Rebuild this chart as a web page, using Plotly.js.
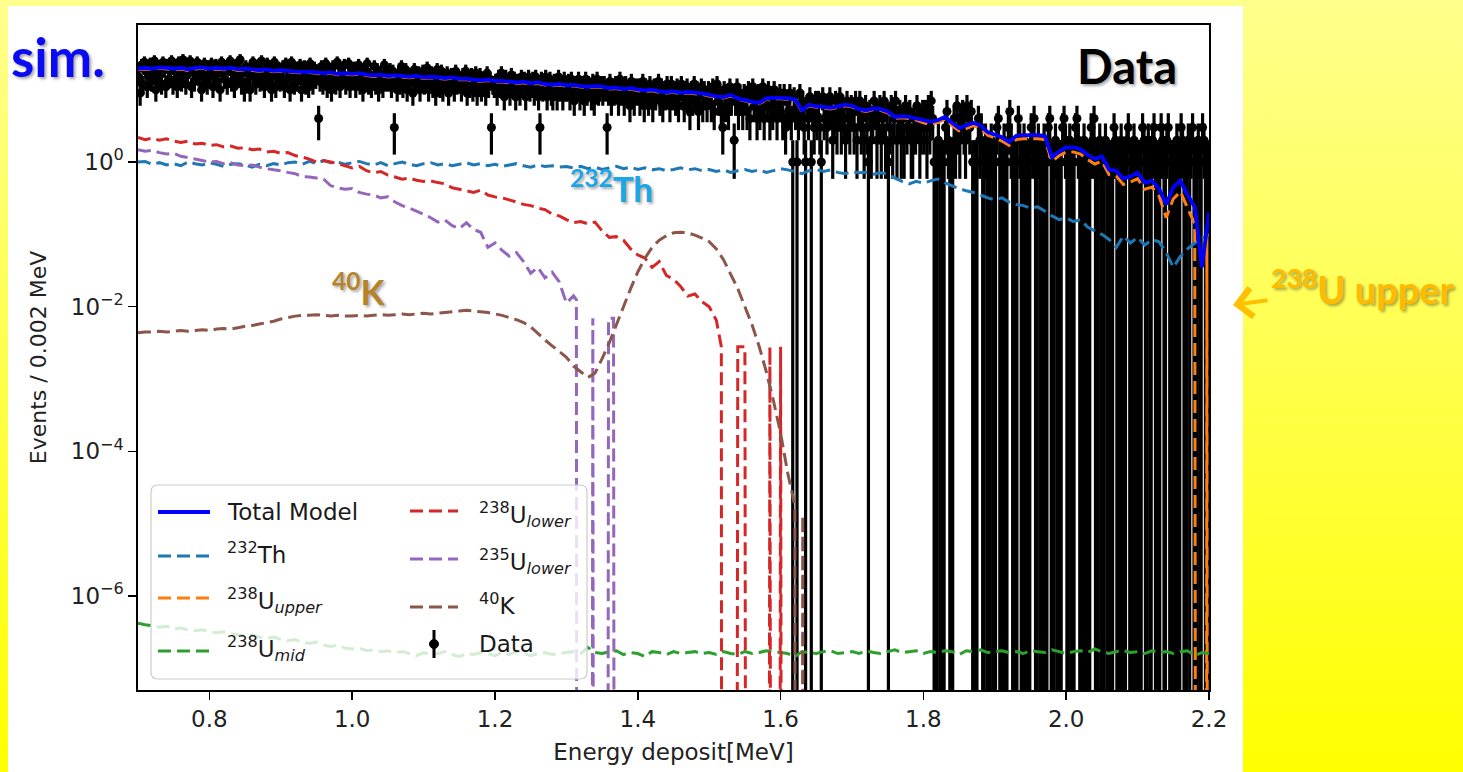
<!DOCTYPE html>
<html>
<head>
<meta charset="utf-8">
<script src="https://cdn.plot.ly/plotly-3.0.1.min.js"></script>
<style>
html,body{margin:0;padding:0;width:1463px;height:772px;overflow:hidden;
  background:linear-gradient(to bottom,#ffff8c 0%,#ffff50 45%,#ffff00 100%);}
#panel{position:absolute;left:8px;top:6px;width:1235px;height:766px;background:#ffffff;}
#chart{position:absolute;left:0;top:0;width:1463px;height:772px;}
</style>
</head>
<body>
<div id="panel"></div>
<div id="chart"></div>
<script>
// ---------------- data ----------------
// model histograms, sampled every 0.01 MeV starting at 0.70 MeV
const gridStart = 0.70, gridStep = 0.01;

const totalModel = [
19.5,20.0,19.5,20.4,20.0,19.5,20.0,19.1,20.0,20.4,
19.5,20.0,19.5,20.0,19.1,19.5,19.1,18.6,19.1,18.2,
18.6,18.2,17.8,17.6,17.8,17.4,17.0,17.4,16.6,17.0,
16.6,17.0,16.2,15.8,16.2,15.5,15.8,15.5,15.1,15.5,
14.8,15.1,14.8,14.5,14.8,14.1,14.1,13.8,13.5,13.8,
13.2,13.2,12.9,12.6,12.9,12.3,12.6,12.0,11.7,12.0,
11.5,11.7,11.2,11.0,11.2,11.0,10.5,10.7,10.2,10.5,
10.0,9.8,10.0,9.5,9.3,9.5,9.1,9.3,9.1,8.9,
8.5,8.1,7.9,8.5,7.6,7.2,6.8,6.6,7.6,7.7,
7.7,7.6,7.4,5.2,6.2,5.9,5.8,5.6,5.9,6.2,
6.0,5.4,5.2,5.5,5.4,5.0,4.2,4.3,4.2,4.0,
3.8,3.6,3.8,4.2,3.5,2.95,3.2,3.5,3.2,2.6,
2.4,2.2,1.9,2.3,2.35,2.35,2.35,2.3,1.17,1.4,
1.6,1.6,1.5,1.26,1.1,1.2,0.79,0.76,0.59,0.63,
0.71,0.52,0.55,0.43,0.26,0.45,0.55,0.35,0.24,0.035,
0.20];

const th232 = [
1.00,1.02,0.93,0.98,0.91,0.95,0.89,1.00,0.95,0.91,
0.98,0.93,0.87,0.93,0.95,0.91,0.85,0.93,0.89,0.95,
0.91,0.98,1.00,0.93,1.02,0.95,1.05,0.98,1.00,0.93,
0.98,1.02,0.95,0.91,0.98,0.89,0.95,1.00,0.93,0.89,
0.95,0.98,0.91,0.95,0.89,0.93,0.98,0.91,0.95,0.89,
0.93,0.87,0.91,0.95,0.89,0.85,0.91,0.87,0.89,0.85,
0.87,0.83,0.87,0.81,0.85,0.79,0.83,0.87,0.81,0.85,
0.79,0.83,0.78,0.81,0.76,0.79,0.83,0.78,0.81,0.76,
0.79,0.74,0.78,0.72,0.76,0.79,0.74,0.78,0.72,0.76,
0.81,0.78,0.74,0.69,0.76,0.79,0.74,0.78,0.72,0.69,
0.74,0.71,0.72,0.68,0.71,0.68,0.60,0.54,0.50,0.54,
0.51,0.55,0.58,0.52,0.47,0.43,0.40,0.38,0.35,0.32,
0.30,0.32,0.28,0.26,0.25,0.23,0.24,0.21,0.18,0.16,
0.17,0.15,0.16,0.126,0.112,0.10,0.085,0.066,0.095,0.076,
0.091,0.071,0.085,0.079,0.056,0.035,0.05,0.063,0.076,0.089,
0.10];

const u238Upper = [
18.9,19.4,18.9,19.8,19.4,18.9,19.4,18.5,19.4,19.8,
18.9,19.4,18.9,19.4,18.5,18.9,18.5,18.0,18.5,17.7,
18.0,17.7,17.3,17.1,17.3,16.9,16.5,16.9,16.1,16.5,
16.1,16.5,15.7,15.3,15.7,15.0,15.3,15.0,14.6,15.0,
14.4,14.6,14.4,14.1,14.4,13.7,13.7,13.4,13.1,13.4,
12.8,12.8,12.5,12.2,12.5,11.9,12.2,11.6,11.3,11.6,
11.2,11.3,10.9,10.7,10.9,10.7,10.2,10.4,9.9,10.2,
9.7,9.5,9.7,9.2,9.0,9.2,8.8,9.0,8.8,8.6,
8.2,7.9,7.7,8.2,7.4,7.0,6.6,6.4,7.4,7.5,
7.5,7.4,7.2,5.0,6.0,5.7,5.6,5.4,5.7,6.0,
5.8,5.2,5.0,5.3,5.2,4.8,4.0,4.1,4.0,3.8,
3.5,3.3,3.5,3.9,3.2,2.7,2.9,3.2,2.9,2.35,
2.15,1.95,1.7,2.05,2.1,2.1,2.1,2.05,1.02,1.22,
1.38,1.38,1.29,1.08,0.94,1.03,0.67,0.64,0.49,0.53,
0.59,0.42,0.45,0.34,0.17,0.31,0.39,0.23,0.14];
const u238UpperTailE = [2.185, 2.195, 2.197, 2.2];
const u238UpperTailV = [0, 0, 0.1, 0];

const u238Mid = [
4.2e-7,4.0e-7,3.9e-7,3.7e-7,3.8e-7,3.5e-7,3.6e-7,3.4e-7,3.3e-7,3.4e-7,
3.2e-7,3.1e-7,3.2e-7,3.0e-7,2.9e-7,2.8e-7,2.9e-7,2.7e-7,2.6e-7,2.7e-7,
2.5e-7,2.4e-7,2.5e-7,2.3e-7,2.2e-7,2.3e-7,2.1e-7,2.0e-7,2.1e-7,1.9e-7,
1.85e-7,1.9e-7,1.75e-7,1.8e-7,1.7e-7,1.75e-7,1.65e-7,1.7e-7,1.6e-7,1.5e-7,
1.65e-7,1.55e-7,1.6e-7,1.7e-7,1.55e-7,1.45e-7,1.6e-7,1.55e-7,1.65e-7,1.6e-7,
1.5e-7,1.65e-7,1.55e-7,1.7e-7,1.6e-7,1.5e-7,1.6e-7,1.65e-7,1.55e-7,1.6e-7,
1.65e-7,1.7e-7,1.6e-7,1.95e-7,1.65e-7,1.6e-7,1.7e-7,1.75e-7,1.55e-7,1.65e-7,
1.6e-7,1.45e-7,1.7e-7,1.65e-7,1.55e-7,1.7e-7,1.6e-7,1.65e-7,1.7e-7,1.6e-7,
1.65e-7,1.55e-7,1.7e-7,1.6e-7,1.55e-7,1.7e-7,1.6e-7,1.65e-7,1.75e-7,1.7e-7,
1.65e-7,1.6e-7,1.45e-7,1.7e-7,1.65e-7,1.6e-7,1.7e-7,1.75e-7,1.6e-7,1.65e-7,
1.7e-7,1.6e-7,1.75e-7,1.65e-7,1.6e-7,1.7e-7,1.8e-7,1.65e-7,1.7e-7,1.75e-7,
1.6e-7,1.7e-7,1.65e-7,1.75e-7,1.7e-7,1.55e-7,1.75e-7,1.7e-7,1.8e-7,1.65e-7,
1.7e-7,1.75e-7,1.65e-7,1.7e-7,1.6e-7,1.75e-7,1.7e-7,1.65e-7,1.8e-7,1.7e-7,
1.6e-7,1.7e-7,1.75e-7,1.65e-7,1.85e-7,1.7e-7,1.6e-7,1.7e-7,1.75e-7,1.65e-7,
1.7e-7,1.6e-7,1.75e-7,1.65e-7,1.7e-7,1.6e-7,1.7e-7,1.75e-7,1.5e-7,1.65e-7,
1.6e-7];

const u238Lower = [
2.19,2.04,2.14,2.00,2.09,1.95,1.86,1.95,1.78,1.82,
1.70,1.74,1.62,1.66,1.55,1.58,1.48,1.51,1.38,1.41,
1.32,1.35,1.23,1.17,1.10,1.00,1.05,1.00,0.95,0.89,
0.83,0.87,0.76,0.71,0.74,0.66,0.62,0.58,0.60,0.56,
0.54,0.55,0.52,0.50,0.44,0.42,0.40,0.38,0.41,0.35,
0.33,0.32,0.30,0.28,0.26,0.25,0.23,0.22,0.19,0.18,
0.16,0.145,0.15,0.14,0.148,0.112,0.091,0.093,0.083,0.063,
0.052,0.047,0.035,0.042,0.027,0.024,0.019,0.014,0.015,0.0117,
0.010,0.0065];
const u238LowerTailE = [1.517, 1.519, 1.535, 1.54, 1.55, 1.555, 1.58, 1.585, 1.59, 1.595, 1.60, 1.605, 2.2];
const u238LowerTailV = [0.0028, 0, 0, 0.0028, 0.0028, 0, 0, 0.0028, 0, 0, 0.0028, 0, 0];

const u235Lower = [
1.48,1.41,1.45,1.35,1.29,1.32,1.20,1.15,1.10,1.05,
1.00,1.02,0.95,0.98,0.91,0.89,0.91,0.85,0.81,0.78,
0.76,0.72,0.69,0.63,0.62,0.60,0.58,0.47,0.44,0.42,
0.43,0.38,0.36,0.35,0.32,0.33,0.28,0.25,0.23,0.21,
0.19,0.17,0.148,0.158,0.132,0.120,0.145,0.117,0.107,0.066,
0.076,0.060,0.050,0.056,0.042,0.029,0.035,0.025,0.030,0.022,
0.0112,0.0141];
const u235LowerTailE = [1.314, 1.316, 1.333, 1.337, 1.341, 1.355, 1.359, 1.366, 1.37, 2.2];
const u235LowerTailV = [0.0125, 0, 0, 0.0069, 0, 0, 0.0069, 0.0069, 0, 0];

const k40 = [
0.00437,0.00447,0.00447,0.00457,0.00447,0.00457,0.00468,0.00457,0.00468,0.00479,
0.00468,0.0049,0.0050,0.0049,0.00513,0.00537,0.0055,0.00575,0.00603,0.0063,
0.00676,0.00708,0.00741,0.00759,0.00759,0.00776,0.00759,0.00741,0.00759,0.00741,
0.00741,0.00759,0.00741,0.00759,0.00776,0.00759,0.00776,0.00794,0.00776,0.00794,
0.00813,0.00794,0.00813,0.00832,0.00851,0.00871,0.00891,0.00871,0.00851,0.00832,
0.00794,0.00759,0.00708,0.00661,0.00603,0.00525,0.00427,0.00347,0.00288,0.0024,
0.002,0.00151,0.00126,0.00105,0.0012,0.00191,0.00316,0.00562,0.01,0.0178,
0.0302,0.0468,0.0661,0.0832,0.0955,0.105,0.107,0.105,0.0977,0.0891,
0.0794,0.0631,0.0447,0.0282,0.0178,0.01,0.00562,0.00282,0.00126,0.0005,
0.000178,0.00005,0.0000178];
const k40TailE = [1.622, 1.628, 1.631, 1.634, 2.2];
const k40TailV = [0, 0, 1.3e-5, 0, 0];

// measured events per 0.002 MeV bin, first bin centre 0.701 MeV
const dataStart = 0.701, dataBin = 0.002;
const dataCounts = [
15,9,22,12,24,18,11,16,23,13,19,25,10,15,21,17,12,24,19,11,22,14,18,25,12,
20,14,11,24,17,13,26,19,12,16,22,25,11,18,13,21,24,15,20,10,17,23,14,12,21,
16,23,11,18,22,13,19,10,24,17,14,21,12,20,25,13,18,11,22,15,19,26,12,17,10,
21,13,18,10,20,24,15,12,17,22,13,25,16,11,19,23,14,21,10,16,24,11,18,20,13,
15,21,11,23,14,18,10,24,16,12,20,13,19,22,10,15,21,12,18,11,23,16,12,20,14,
18,4,13,21,12,16,23,11,19,14,10,21,15,12,24,14,11,19,16,22,12,14,23,11,17,
14,20,11,16,22,12,17,10,19,13,23,12,16,11,14,21,12,19,10,17,14,11,22,13,16,
13,19,11,18,3,14,10,17,12,21,11,15,19,10,16,13,15,9,19,12,14,17,10,13,18,
12,16,20,10,14,17,11,15,9,19,13,11,18,10,15,13,17,9,12,16,14,10,18,12,15,
14,10,16,12,18,9,14,11,16,10,13,17,9,12,16,10,14,12,9,17,11,14,3,12,11,
13,9,15,11,17,12,8,15,11,13,9,16,11,14,8,13,11,9,15,11,14,8,12,15,10,
11,14,9,15,12,8,3,14,10,12,15,8,11,14,9,8,13,11,8,15,10,12,8,14,10,
10,13,8,14,10,7,12,10,14,8,12,10,7,14,9,12,10,8,13,7,11,14,9,10,12,
9,12,10,3,9,13,7,11,9,12,10,7,14,9,10,7,12,9,10,6,13,9,7,11,9,
11,7,10,13,6,11,9,7,12,9,6,11,8,10,13,7,11,6,10,8,12,9,6,12,8,
10,7,11,6,10,12,8,6,10,11,7,5,10,7,12,8,10,5,9,11,6,10,8,6,10,
9,6,11,5,9,12,7,9,5,3,10,6,9,5,11,7,9,2,7,11,5,9,7,5,9,
8,5,10,4,8,11,6,8,4,9,5,8,11,4,8,6,10,4,8,5,10,7,4,6,9,
7,4,9,3,7,5,9,4,1,8,5,1,4,9,5,7,3,1,6,4,8,1,5,3,7,
4,7,3,1,8,4,6,3,5,8,5,2,4,7,3,5,8,3,6,4,2,7,4,3,6,
5,3,7,2,5,7,3,5,2,6,3,1,5,2,4,7,5,2,4,6,2,4,7,2,5,
1,3,6,2,4,7,2,4,5,2,4,2,6,3,4,5,2,2,4,3,6,4,2,3,5,
3,5,2,6,3,7,4,1,1,1,2,1,1,1,1,3,5,2,1,1,1,4,2,6,3,
2,4,5,3,2,6,4,3,5,1,1,1,1,4,2,3,1,1,2,1,1,1,2,1,1,
1,3,4,1,1,1,2,1,1,3,5,2,1,1,1,1,4,2,1,1,2,1,1,1,1,
3,2,4,1,1,2,1,1,1,2,1,1,3,4,1,1,1,2,1,1,1,1,3,4,2,
1,1,2,1,1,1,3,4,2,1,1,1,2,1,1,1,1,3,2,4,1,1,1,2,1,
1,1,2,1,1,1,1,1,3,2,1,1,1,2,1,1,1,2,3,1,1,1,2,1,1,
1,1,1,3,2,1,1,2,1,1,2,3,1,1,1,1,3,2,1,1,2,3,1,1,1,
1,1,2,1,1,3,2,1,1,1,2,1,2,3,1,1,1,2,1,1,3,2,1,1,1];

const xTickVals = [0.8, 1.0, 1.2, 1.4, 1.6, 1.8, 2.0, 2.2];
const xTickText = ['0.8', '1.0', '1.2', '1.4', '1.6', '1.8', '2.0', '2.2'];
const yTickVals = [1e-6, 1e-4, 1e-2, 1];
const yTickText = ['10<sup>\u22126</sup>', '10<sup>\u22124</sup>', '10<sup>\u22122</sup>', '10<sup>0</sup>'];

// ---------------- build traces ----------------
const gridE = n => Array.from({length: n}, (_, i) => Math.round((gridStart + i * gridStep) * 1000) / 1000);
// empty bins (0) drop to far below the axis bottom, like matplotlib's log clipping
const drawFloor = 1e-40;
const withFloor = arr => arr.map(v => (v > 0 ? v : drawFloor));
function series(vals, tailE, tailV) {
  return { x: gridE(vals.length).concat(tailE || []), y: withFloor(vals.concat(tailV || [])) };
}

const dataX = [], dataY = [], dataErr = [];
dataCounts.forEach((n, i) => {
  if (n > 0) {
    dataX.push(Math.round((dataStart + i * dataBin) * 1000) / 1000);
    dataY.push(n);
    dataErr.push(Math.sqrt(n));
  }
});

const DASH = '13px,6px', LW = 3.0;
function modelTrace(s, name, color) {
  return { type: 'scatter', mode: 'lines', x: s.x, y: s.y, name: name,
           line: { color: color, width: LW, dash: DASH, simplify: false }, hoverinfo: 'skip' };
}

const traces = [
  { type: 'scatter', mode: 'markers', x: dataX, y: dataY, name: 'Data',
    marker: { color: '#000', size: 9 },
    error_y: { type: 'data', array: dataErr, visible: true, color: '#000', thickness: 3.2, width: 0 } },
  modelTrace(series(th232), '232Th', '#1f77b4'),
  modelTrace(series(u238Upper, u238UpperTailE, u238UpperTailV), '238U upper', '#ff7f0e'),
  modelTrace(series(u238Mid), '238U mid', '#2ca02c'),
  modelTrace(series(u238Lower, u238LowerTailE, u238LowerTailV), '238U lower', '#d62728'),
  modelTrace(series(u235Lower, u235LowerTailE, u235LowerTailV), '235U lower', '#9467bd'),
  modelTrace(series(k40, k40TailE, k40TailV), '40K', '#8c564b'),
  (function () { const s = series(totalModel);
    return { type: 'scatter', mode: 'lines', x: s.x, y: s.y, name: 'Total Model',
             line: { color: '#0000ff', width: 3.8, simplify: false } }; })()
];

// ---------------- layout ----------------
const W = 1463, H = 772, L = 138, R = 1209, T = 25, B = 690;
const px2x = px => (px - L) / (R - L);
const py2y = py => (B - py) / (B - T);

const MPL = 'DejaVu Sans';
const SLIDE = 'Lato, "Open Sans", sans-serif';
const shadow = '2px 2px 3px rgba(0,0,0,0.35)';

function hLine(x0, x1, y, color, width, dash) {
  return { type: 'line', xref: 'paper', yref: 'paper', layer: 'above',
           x0: px2x(x0), x1: px2x(x1), y0: py2y(y), y1: py2y(y),
           line: { color: color, width: width, dash: dash || 'solid' } };
}
function roundRect(x0, y0, x1, y1, r) {
  const X0 = px2x(x0), X1 = px2x(x1), Y0 = py2y(y0), Y1 = py2y(y1);
  const rx = r / (R - L), ry = r / (B - T);
  const p = `M${X0 + rx},${Y0} L${X1 - rx},${Y0} Q${X1},${Y0} ${X1},${Y0 - ry} L${X1},${Y1 + ry} Q${X1},${Y1} ${X1 - rx},${Y1} ` +
            `L${X0 + rx},${Y1} Q${X0},${Y1} ${X0},${Y1 + ry} L${X0},${Y0 - ry} Q${X0},${Y0} ${X0 + rx},${Y0} Z`;
  return { type: 'path', xref: 'paper', yref: 'paper', layer: 'above', path: p,
           fillcolor: 'rgba(255,255,255,0.8)', line: { color: '#cccccc', width: 1.2 } };
}

const shapes = [
  roundRect(151, 485, 587, 679, 7),
  hLine(158, 210, 512, '#0000ff', 3.8),
  hLine(158, 210, 556, '#1f77b4', LW, DASH),
  hLine(158, 210, 598, '#ff7f0e', LW, DASH),
  hLine(158, 210, 651, '#2ca02c', LW, DASH),
  hLine(410, 458, 511, '#d62728', LW, DASH),
  hLine(410, 458, 559, '#9467bd', LW, DASH),
  hLine(410, 458, 607, '#8c564b', LW, DASH),
  { type: 'line', xref: 'paper', yref: 'paper', layer: 'above',
    x0: px2x(434), x1: px2x(434), y0: py2y(630), y1: py2y(658), line: { color: '#000', width: 3 } },
  { type: 'circle', xref: 'paper', yref: 'paper', layer: 'above',
    x0: px2x(429.5), x1: px2x(438.5), y0: py2y(639.5), y1: py2y(648.5), fillcolor: '#000', line: { color: '#000', width: 1 } }
];

function legendText(text, px, py) {
  return { text: text, xref: 'paper', yref: 'paper', x: px2x(px), y: py2y(py),
           xanchor: 'left', yanchor: 'middle', showarrow: false,
           font: { family: MPL, size: 23, color: '#1a1a1a' } };
}
function slideText(text, px, py, size, color) {
  return { text: text, xref: 'paper', yref: 'paper', x: px2x(px), y: py2y(py),
           xanchor: 'center', yanchor: 'middle', showarrow: false,
           font: { family: SLIDE, size: size, color: color, shadow: shadow } };
}

const annotations = [
  legendText('Total Model', 225, 512),
  legendText('<sup>232</sup>Th', 225, 553),
  legendText('<sup>238</sup>U<sub><i>upper</i></sub>', 225, 600),
  legendText('<sup>238</sup>U<sub><i>mid</i></sub>', 225, 648),
  legendText('<sup>238</sup>U<sub><i>lower</i></sub>', 477, 514),
  legendText('<sup>235</sup>U<sub><i>lower</i></sub>', 477, 561),
  legendText('<sup>40</sup>K', 477, 604),
  legendText('Data', 477, 644),
  slideText('<b>sim.</b>', 58, 57, 53, '#0a0af5'),
  slideText('<b>Data</b>', 1127, 66, 47, '#000000'),
  slideText('<b><sup>232</sup>Th</b>', 611, 186, 35, '#1ba6e8'),
  slideText('<b><sup>40</sup>K</b>', 358, 289, 35, '#b5842a'),
  { text: '<b><sup>238</sup>U upper</b>', xref: 'paper', yref: 'paper',
    x: px2x(1233), y: py2y(305), ax: 130, ay: -18, axref: 'pixel', ayref: 'pixel',
    showarrow: true, arrowhead: 4, arrowsize: 1.4, arrowwidth: 4, arrowcolor: '#ffc000',
    standoff: 0, startstandoff: 2,
    font: { family: SLIDE, size: 38, color: '#ffbb00', shadow: shadow } }
];

const axisCommon = {
  ticks: 'outside', ticklen: 8, tickwidth: 1.6, tickcolor: '#000',
  showline: true, linecolor: '#000', linewidth: 1.6, mirror: true,
  showgrid: false, zeroline: false,
  tickfont: { family: MPL, size: 23, color: '#222' }
};

const layout = {
  width: W, height: H,
  margin: { l: L, r: W - R, t: T, b: H - B, pad: 0 },
  paper_bgcolor: 'rgba(0,0,0,0)', plot_bgcolor: '#ffffff',
  showlegend: false,
  xaxis: Object.assign({}, axisCommon, {
    range: [0.7, 2.2], tickmode: 'array', tickvals: xTickVals, ticktext: xTickText,
    title: { text: 'Energy deposit[MeV]', font: { family: MPL, size: 23, color: '#222' }, standoff: 12 }
  }),
  yaxis: Object.assign({}, axisCommon, {
    type: 'log', range: [-7.30, 1.895], tickmode: 'array', tickvals: yTickVals, ticktext: yTickText,
    title: { text: 'Events / 0.002 MeV', font: { family: MPL, size: 22, color: '#222' }, standoff: 18 }
  }),
  shapes: shapes,
  annotations: annotations
};

Plotly.newPlot('chart', traces, layout, { displayModeBar: false, staticPlot: true });
</script>
</body>
</html>
